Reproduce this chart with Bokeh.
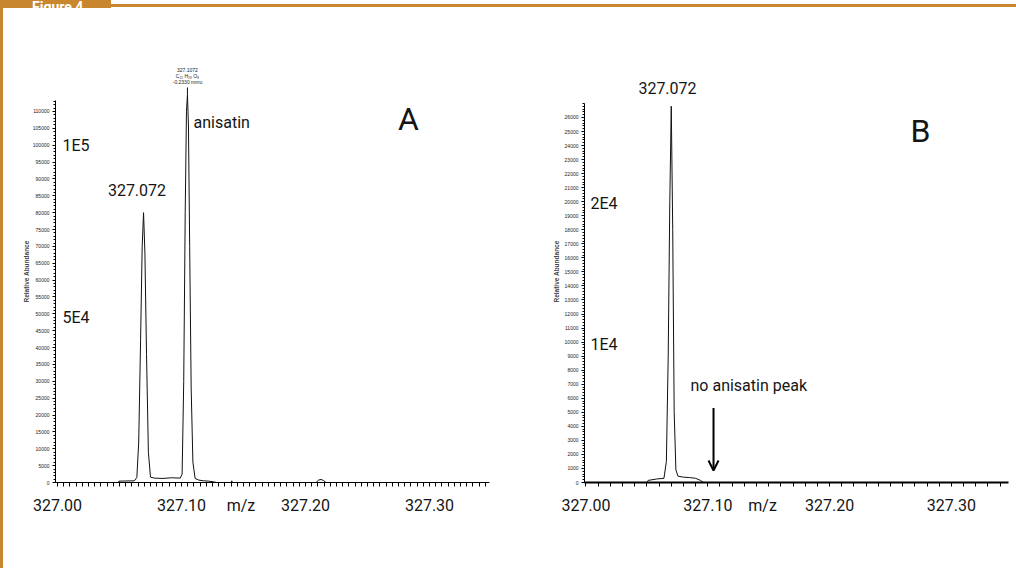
from bokeh.plotting import figure
from bokeh.layouts import row, column
from bokeh.models import Range1d, FixedTicker, BasicTickFormatter, Arrow, OpenHead, Div
from bokeh.core.properties import value
from bokeh.embed import file_html
from bokeh.resources import INLINE

ORANGE = "#C8862E"
FONT = "Roboto"
SMALLFONT = "Liberation Sans"

# ---------------- data ----------------
# Panel A: profile spectrum (m/z, relative abundance)
mz_a = [327.0490, 327.0495, 327.0620, 327.0640, 327.0655, 327.0670, 327.0683,
        327.0694, 327.0705, 327.0718, 327.0733, 327.0750, 327.0780, 327.0850,
        327.0920, 327.0990, 327.1005, 327.1018, 327.1030, 327.1040, 327.1048,
        327.1056, 327.1066, 327.1078, 327.1092, 327.1110, 327.1140, 327.1180,
        327.1220, 327.1260, 327.1280, 327.1400, 327.1405, 327.1412, 327.2085,
        327.2105, 327.2125, 327.2145, 327.2165]
int_a = [0, 400, 500, 1500, 12000, 42000, 70000,
         80000, 68000, 38000, 9000, 1600, 1300, 1200,
         1400, 1300, 2500, 30000, 80000, 110000, 115000,
         106000, 70000, 28000, 6000, 1200, 700, 500,
         400, 200, 0, 0, 500, 0, 0,
         700, 900, 600, 0]

# Panel B
mz_b = [327.0500, 327.0510, 327.0580, 327.0640, 327.0660, 327.0675, 327.0688,
        327.0700, 327.0712, 327.0724, 327.0738, 327.0755, 327.0800, 327.0850,
        327.0900, 327.0940, 327.0965]
int_b = [0, 150, 250, 300, 1500, 9000, 20000,
         26800, 18000, 5000, 900, 450, 380, 350,
         300, 150, 0]

x_ticks = [327.00, 327.10, 327.20, 327.30]
x_tick_labels = ["327.00", "327.10", "327.20", "327.30"]
mz_label_a = 327.148
mz_label_b = 327.145

ya_ticks = list(range(0, 110001, 5000))
yb_ticks = list(range(0, 26001, 1000))

# annotations
a_big = ["1E5", "5E4"]
a_big_y = [100000, 49000]
a_peak_label = "327.072"
a_name = "anisatin"
a_formula = ["327.1072", "C\u2081\u2085 H\u2081\u2089 O\u2088", "-0.2330 mmu"]
b_big = ["2E4", "1E4"]
b_big_y = [19900, 9800]
b_peak_label = "327.072"
b_note = "no anisatin peak"

TXT = "#151515"


def style_axes(p, xminor, yminor, ybound, yticks, mzpos, xline_w, label_standoff):
    p.grid.visible = False
    xa = p.xaxis[0]
    ticks = x_ticks + [mzpos]
    xa.ticker = FixedTicker(ticks=ticks, minor_ticks=xminor)
    ov = dict(zip(x_ticks, x_tick_labels))
    ov[mzpos] = "m/z"
    xa.major_label_overrides = ov
    xa.major_tick_out = 0
    xa.major_tick_in = 0
    xa.minor_tick_out = 4
    xa.minor_tick_in = 0
    xa.axis_line_width = xline_w
    xa.axis_line_color = "black"
    xa.minor_tick_line_color = "black"
    xa.major_label_text_font = FONT
    xa.major_label_text_font_size = "16px"
    xa.major_label_text_color = TXT
    xa.major_label_standoff = 9

    ya = p.yaxis[0]
    ya.ticker = FixedTicker(ticks=yticks, minor_ticks=yminor)
    ya.formatter = BasicTickFormatter(use_scientific=False)
    ya.bounds = (0, ybound)
    ya.major_tick_out = 3
    ya.major_tick_in = 0
    ya.minor_tick_out = 2
    ya.minor_tick_in = 0
    ya.axis_line_color = "black"
    ya.major_label_text_font = SMALLFONT
    ya.major_label_text_font_size = "5px"
    ya.major_label_text_color = "#222222"
    ya.major_label_standoff = 3
    ya.axis_label = "Relative Abundance"
    ya.axis_label_text_font = SMALLFONT
    ya.axis_label_text_font_size = "6.5px"
    ya.axis_label_text_font_style = "bold"
    ya.axis_label_standoff = label_standoff


def big_text(p, xs, ys, texts, align, size="16px"):
    p.text(x=xs, y=ys, text=texts, text_font=value(FONT), text_font_size=size,
           text_align=align, text_baseline="middle", text_color=TXT)


# ---------------- Panel A ----------------
pA = figure(width=537, height=560,
            x_range=Range1d(326.99839, 327.34839), y_range=Range1d(0, 125110),
            output_backend="svg", toolbar_location=None,
            min_border_left=52, min_border_right=51, min_border_top=52, min_border_bottom=86,
            outline_line_color=None, background_fill_color="white", border_fill_color="white")
style_axes(pA, [round(327.0 + 0.005 * i, 3) for i in range(70)],
           list(range(0, 113001, 1000)), 113300, ya_ticks, mz_label_a, 1, 0)

pA.line(mz_a, int_a, line_color="#111111", line_width=1)
apex_i = int_a.index(max(int_a))
apex_x, apex_y = mz_a[apex_i], int_a[apex_i]
pA.segment(x0=[apex_x], y0=[apex_y], x1=[apex_x], y1=[117100], line_color="#111111", line_width=1)
pA.text(x=[apex_x] * 3, y=[122146, 120367, 118589], text=a_formula,
        text_font=value(SMALLFONT), text_font_size="5px", text_align="center",
        text_baseline="middle", text_color="#222222")
big_text(pA, [327.004] * 2, a_big_y, a_big, "left")
big_text(pA, [327.0641], [86570], [a_peak_label], "center")
big_text(pA, [327.1097], [106730], [a_name], "left")
big_text(pA, [327.2831], [107900], ["A"], "center", "32px")

# ---------------- Panel B ----------------
pB = figure(width=476, height=560,
            x_range=Range1d(326.99877, 327.34688), y_range=Range1d(0, 30057),
            output_backend="svg", toolbar_location=None,
            min_border_left=44, min_border_right=8, min_border_top=52, min_border_bottom=86,
            outline_line_color=None, background_fill_color="white", border_fill_color="white")
style_axes(pB, [round(327.0 + 0.01 * i, 3) for i in range(35)],
           list(range(0, 27001, 200)), 27000, yb_ticks, mz_label_b, 2, 2)

pB.line(mz_b, int_b, line_color="#111111", line_width=1)
big_text(pB, [327.0669], [28063], [b_peak_label], "center")
big_text(pB, [327.0037] * 2, b_big_y, b_big, "left")
big_text(pB, [327.0858], [6909], [b_note], "left")
big_text(pB, [327.2746], [25071], ["B"], "center", "32px")
pB.add_layout(Arrow(end=OpenHead(size=10, line_width=2, line_color="black"),
                    x_start=327.1047, y_start=5300, x_end=327.1047, y_end=850,
                    line_width=2, line_color="black"))

# ---------------- frame decoration ----------------
bar_bg = (f"linear-gradient(to right, {ORANGE} 0px, {ORANGE} 111px, rgba(0,0,0,0) 111px), "
          f"linear-gradient(to bottom, rgba(0,0,0,0) 0px, rgba(0,0,0,0) 4px, {ORANGE} 4px, "
          f"{ORANGE} 7px, rgba(0,0,0,0) 7px)")
top_html = ('<span style="display:block;margin:-11px 0 0 32px;color:#ffffff;'
            'font:bold 14px Roboto,sans-serif;line-height:14px;white-space:nowrap;">Figure 4</span>')
top = Div(text=top_html, width=1016, height=8, margin=0,
          styles={"background": bar_bg, "overflow": "hidden"})
left = Div(text="", width=3, height=560, margin=0, styles={"background-color": ORANGE})

layout = column(top, row(left, pA, pB, spacing=0), spacing=0)

open("out.html", "w").write(file_html(layout, INLINE))
